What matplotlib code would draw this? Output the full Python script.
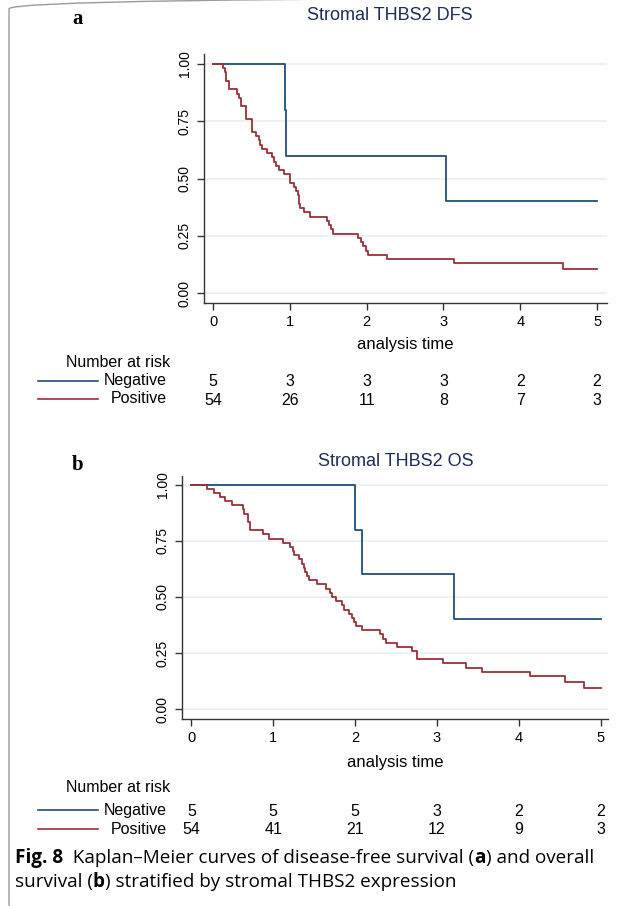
import matplotlib
matplotlib.use("Agg")
import matplotlib.pyplot as plt
import matplotlib.transforms as mtransforms
from matplotlib.patches import FancyBboxPatch

# Kaplan-Meier step data
dfs_neg_t = [0, 0.94, 0.95, 3.03, 5.0]
dfs_neg_s = [1.0, 0.8, 0.6, 0.4, 0.4]

dfs_pos_t = [0, 0.13, 0.15, 0.17, 0.20, 0.31, 0.34, 0.36, 0.43, 0.50, 0.51,
             0.56, 0.59, 0.61, 0.63, 0.70, 0.76, 0.79, 0.82, 0.86, 0.92,
             1.00, 1.05, 1.08, 1.10, 1.12, 1.13, 1.18, 1.26, 1.48, 1.51,
             1.53, 1.56, 1.89, 1.92, 1.95, 1.99, 2.02, 2.26, 3.14, 4.56, 5.0]
dfs_pos_s = [1.0, 0.981, 0.963, 0.926, 0.889, 0.870, 0.852, 0.815, 0.759, 0.722, 0.704,
             0.685, 0.667, 0.648, 0.630, 0.611, 0.593, 0.574, 0.556, 0.537, 0.519,
             0.481, 0.463, 0.444, 0.426, 0.389, 0.370, 0.352, 0.333, 0.315, 0.296,
             0.278, 0.259, 0.241, 0.222, 0.204, 0.185, 0.167, 0.148, 0.130, 0.104, 0.104]

os_neg_t = [0, 2.0, 2.09, 3.21, 5.0]
os_neg_s = [1.0, 0.8, 0.6, 0.4, 0.4]

os_pos_t = [0, 0.19, 0.27, 0.35, 0.41, 0.49, 0.63, 0.64, 0.69, 0.71, 0.88, 0.945,
            1.12, 1.20, 1.24, 1.25, 1.32, 1.35, 1.37, 1.39, 1.41, 1.44, 1.53,
            1.64, 1.69, 1.72, 1.77, 1.84, 1.87, 1.92, 1.96, 1.99, 2.01, 2.09,
            2.31, 2.34, 2.38, 2.51, 2.69, 2.76, 3.08, 3.35, 3.55, 4.14, 4.56,
            4.80, 5.0]
os_pos_s = [1.0, 0.981, 0.963, 0.944, 0.926, 0.907, 0.889, 0.870, 0.833, 0.796, 0.778, 0.759,
            0.741, 0.722, 0.704, 0.685, 0.667, 0.648, 0.630, 0.611, 0.593, 0.574, 0.556,
            0.537, 0.519, 0.500, 0.481, 0.463, 0.444, 0.426, 0.407, 0.389, 0.370, 0.352,
            0.333, 0.315, 0.296, 0.278, 0.259, 0.222, 0.204, 0.185, 0.167, 0.148, 0.120,
            0.093, 0.093]

risk_times = [0, 1, 2, 3, 4, 5]
dfs_risk_neg = [5, 3, 3, 3, 2, 2]
dfs_risk_pos = [54, 26, 11, 8, 7, 3]
os_risk_neg = [5, 5, 5, 3, 2, 2]
os_risk_pos = [54, 41, 21, 12, 9, 3]

groups = ["Negative", "Positive"]
colors = ["#1f4e79", "#9a3038"]
title_color = "#1c2c5b"
W, H = 629, 906

plt.rcParams['font.family'] = ['Liberation Sans', 'DejaVu Sans']
fig = plt.figure(figsize=(W / 100, H / 100), dpi=100)


def fy(py):
    return 1 - py / H


def fx(px):
    return px / W


def panel(box, xlim, ylim, neg, pos, risk_neg, risk_pos, title, letter, ys):
    l, r, t, b = box
    ax = fig.add_axes([fx(l), fy(b), fx(r - l), (b - t) / H])
    ax.step(neg[0], neg[1], where='post', color=colors[0], lw=1.3)
    ax.step(pos[0], pos[1], where='post', color=colors[1], lw=1.3)
    ax.set_xlim(*xlim)
    ax.set_ylim(*ylim)
    ax.set_yticks([0, 0.25, 0.5, 0.75, 1.0])
    ax.set_yticklabels(["0.00", "0.25", "0.50", "0.75", "1.00"], rotation=90,
                       va='center', fontsize=10)
    ax.set_xticks(risk_times)
    ax.set_xticklabels([str(v) for v in risk_times], fontsize=10.5)
    for v in [0, 0.25, 0.5, 0.75, 1.0]:
        ax.axhline(v, color="#e8f0f2", lw=1.2, zorder=0)
    for s in ['top', 'right']:
        ax.spines[s].set_visible(False)
    for s in ['left', 'bottom']:
        ax.spines[s].set_color("#333333")
        ax.spines[s].set_linewidth(1.0)
    ax.tick_params(direction='out', length=5, width=1, colors="#333333",
                   labelcolor="black", pad=4)

    y_title, y_axl, y_nar, y_neg, y_pos, x_title = ys
    fig.text(fx(x_title), fy(y_title), title, color=title_color, fontsize=13,
             ha='center', va='center')
    fig.text(fx(78), fy(ys[0] + 4), letter, family='Liberation Serif',
             fontweight='bold', fontsize=15, ha='center', va='center')
    fig.text(fx((l + r) / 2), fy(y_axl), "analysis time", fontsize=12,
             ha='center', va='center')
    fig.text(fx(170), fy(y_nar), "Number at risk", fontsize=11.5,
             ha='right', va='center')
    trans = mtransforms.blended_transform_factory(ax.transData, fig.transFigure)
    for row_y, label, col, vals in [(y_neg, groups[0], colors[0], risk_neg),
                                    (y_pos, groups[1], colors[1], risk_pos)]:
        fig.text(fx(167), fy(row_y), label, fontsize=11.5, ha='right', va='center')
        fig.add_artist(plt.Line2D([fx(38), fx(98)], [fy(row_y), fy(row_y)],
                                  color=col, lw=1.2))
        for tt, v in zip(risk_times, vals):
            ax.text(tt, fy(row_y + 1), str(v), transform=trans, fontsize=11.5,
                    ha='center', va='center', clip_on=False)
    return ax


panel((204, 607, 54, 303), (-0.12, 5.13), (-0.042, 1.042),
      (dfs_neg_t, dfs_neg_s), (dfs_pos_t, dfs_pos_s), dfs_risk_neg, dfs_risk_pos,
      "Stromal THBS2 DFS", "a", (15, 345, 363, 381, 399, 390))

panel((182, 608, 476, 719), (-0.115, 5.09), (-0.043, 1.038),
      (os_neg_t, os_neg_s), (os_pos_t, os_pos_s), os_risk_neg, os_risk_pos,
      "Stromal THBS2 OS", "b", (461, 762, 787, 810, 829, 396))

# caption with bold parts
cap1 = [("Fig. 8", 'bold'), ("  Kaplan\u2013Meier curves of disease-free survival (", 'normal'),
        ("a", 'bold'), (") and overall", 'normal')]
cap2 = [("survival (", 'normal'), ("b", 'bold'),
        (") stratified by stromal THBS2 expression", 'normal')]


def rich_line(parts, x0, y):
    renderer = fig.canvas.get_renderer()
    x = x0
    for txt, w in parts:
        t = fig.text(x, y, txt, family='Open Sans', fontweight=w, fontsize=13.6,
                     ha='left', va='center')
        bb = t.get_window_extent(renderer=renderer)
        x += bb.width / W


rich_line(cap1, fx(15), fy(858))
rich_line(cap2, fx(15), fy(882))

border = FancyBboxPatch((fx(9), fy(914)), fx(700), (914 + 2) / H,
                        boxstyle="round,pad=0,rounding_size=0.012",
                        transform=fig.transFigure, fill=False,
                        edgecolor="#9a9a9a", lw=1.0)
fig.add_artist(border)

fig.savefig("out.png", dpi=100)
